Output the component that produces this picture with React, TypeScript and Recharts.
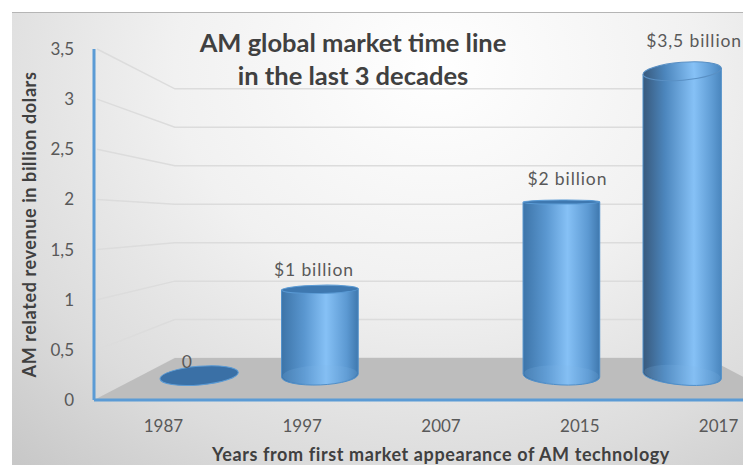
import React from 'react'
import {
  BarChart,
  Bar,
  XAxis,
  YAxis,
  CartesianGrid,
  LabelList,
  Label,
  ReferenceArea,
} from 'recharts'

const years = ['1987', '1997', '2007', '2015', '2017']
const revenue = [0, 1, null, 2, 3.5]
const valueLabels = ['0', '$1 billion', null, '$2 billion', '$3,5 billion']
const revenueTicks = [0, 0.5, 1, 1.5, 2, 2.5, 3, 3.5]
const titleLines = ['AM global market time line', 'in the last 3 decades']

const data = years.map((year, i) => ({ year, revenue: revenue[i], label: valueLabels[i] }))

const FONT = 'Lato, "Open Sans", sans-serif'
const AXIS_BLUE = '#5b9bd5'
const TICK = { fontFamily: FONT, fontSize: 17, fill: '#595959' }
const AXIS_TITLE = { fontFamily: FONT, fontSize: 18, fontWeight: 700, fill: '#404040', letterSpacing: 0.6 }

// Fake 3D: everything is pulled toward one vanishing point by a depth factor
const VANISH = { x: 441, y: 220 }
const WALL_DEPTH = 0.767
const BAR_DEPTH = 0.87
const LABEL_DEPTH = 0.913

const px = (x: number, depth: number) => VANISH.x + (x - VANISH.x) * depth
const py = (y: number, depth: number) => VANISH.y + (y - VANISH.y) * depth

// ── Back wall gridlines, bent along the left side wall ───────────────────────

function wallLine(p: any) {
  const points = [
    `${p.x1 + 3},${p.y1}`,
    `${px(p.x1, WALL_DEPTH)},${py(p.y1, WALL_DEPTH)}`,
    `${px(p.x2, WALL_DEPTH)},${py(p.y2, WALL_DEPTH)}`,
  ].join(' ')
  return <polyline key={p.key ?? p.index ?? p.y1} points={points} fill="none" stroke="#dcdcdc" strokeWidth={1.5} />
}

// ── Floor of the 3D box ──────────────────────────────────────────────────────

function Floor(p: any) {
  const left = p.x
  const right = p.x + p.width
  const front = p.y + p.height
  const backY = py(front, WALL_DEPTH)
  const points = [
    [left, front],
    [px(left, WALL_DEPTH), backY],
    [px(right, WALL_DEPTH), backY],
    [right, front],
  ]
  return <polygon points={points.map((q) => q.join(',')).join(' ')} fill="#bdbdbd" />
}

// ── Cylinders ────────────────────────────────────────────────────────────────

function rimRadius(y: number) {
  return Math.max(2, Math.abs(y - VANISH.y) * 0.06)
}

function rimTilt(x: number, y: number) {
  return (x - VANISH.x) * ((y - VANISH.y) / 156) * 0.02
}

function Cylinder(p: any) {
  const cx = px(p.x + p.width / 2, BAR_DEPTH)
  const baseY = py(p.y + p.height, BAR_DEPTH) - 1
  const topY = py(p.y, BAR_DEPTH)
  const rx = (p.width / 2) * BAR_DEPTH * (1 + (Math.abs(cx - VANISH.x) / 240) * 0.05)
  const baseRy = rimRadius(baseY)
  const baseTilt = rimTilt(cx, baseY)

  if (p.height < 1) {
    return (
      <ellipse
        cx={cx}
        cy={baseY}
        rx={rx}
        ry={baseRy}
        fill="#3a70a6"
        stroke="#5b9bd5"
        transform={`rotate(${baseTilt} ${cx} ${baseY})`}
      />
    )
  }

  const topRy = rimRadius(topY)
  const topTilt = rimTilt(cx, topY)
  const edge = (y: number, tilt: number, side: number) => {
    const t = (tilt * Math.PI) / 180
    return `${cx + side * rx * Math.cos(t)} ${y + side * rx * Math.sin(t)}`
  }
  const fill = Math.abs(cx - VANISH.x) > 200 ? 'url(#cylinderOuter)' : 'url(#cylinderInner)'
  const body = [
    `M ${edge(topY, topTilt, -1)}`,
    `L ${edge(baseY, baseTilt, -1)}`,
    `A ${rx} ${baseRy} ${baseTilt} 0 0 ${edge(baseY, baseTilt, 1)}`,
    `L ${edge(topY, topTilt, 1)}`,
    'Z',
  ].join(' ')
  const seenFromBelow = topY < VANISH.y - 40

  return (
    <g>
      <path d={body} fill={fill} stroke="#4f8fca" strokeWidth={1} />
      {/* far bottom rim showing through the glassy body */}
      <ellipse
        cx={cx}
        cy={baseY - 1}
        rx={rx - 1}
        ry={baseRy}
        fill="#7db6ea"
        fillOpacity={0.18}
        transform={`rotate(${baseTilt} ${cx} ${baseY})`}
      />
      <ellipse
        cx={cx}
        cy={topY}
        rx={rx}
        ry={topRy}
        fill={seenFromBelow ? fill : '#3e78b0'}
        stroke={seenFromBelow ? '#5a90c4' : '#5b9bd5'}
        strokeWidth={1}
        transform={`rotate(${topTilt} ${cx} ${topY})`}
      />
    </g>
  )
}

function ValueLabel(p: any) {
  if (p.value == null) return null
  const box = p.viewBox ?? p
  const x = px(box.x + box.width / 2, LABEL_DEPTH)
  const y = py(box.y, LABEL_DEPTH) - 23
  return (
    <text
      x={x}
      y={y}
      textAnchor="middle"
      dominantBaseline="central"
      fontFamily={FONT}
      fontSize={17.5}
      letterSpacing={0.9}
      fill="#595959"
    >
      {p.value}
    </text>
  )
}

export default function App() {
  return (
    <div style={{ position: 'absolute', left: 0, top: 0, width: 743, height: 465, overflow: 'hidden', background: '#fff' }}>
      <div
        style={{
          position: 'absolute',
          left: 12,
          top: 12,
          right: 0,
          bottom: 0,
          borderTop: '1px solid #b5b5b5',
          background: 'radial-gradient(ellipse 85% 118% at 58% 12%, #ffffff 0%, #f1f1f1 42%, #dcdcdc 76%, #c8c8c8 100%)',
        }}
      />
      <div style={{ position: 'absolute', left: 0, top: 0 }}>
        <BarChart
          width={800}
          height={465}
          data={data}
          barSize={86}
          margin={{ top: 49, right: 12, bottom: 0, left: 0 }}
        >
          <defs>
            <linearGradient id="cylinderInner" x1="0" y1="0" x2="1" y2="0">
              <stop offset="0%" stopColor="#3d74a8" />
              <stop offset="30%" stopColor="#5a97d0" />
              <stop offset="58%" stopColor="#86c1f6" />
              <stop offset="85%" stopColor="#5c99d2" />
              <stop offset="100%" stopColor="#3f78ae" />
            </linearGradient>
            <linearGradient id="cylinderOuter" x1="0" y1="0" x2="1" y2="0">
              <stop offset="0%" stopColor="#38597c" />
              <stop offset="28%" stopColor="#4c86bd" />
              <stop offset="65%" stopColor="#86c1f6" />
              <stop offset="88%" stopColor="#5f9cd4" />
              <stop offset="100%" stopColor="#4a86be" />
            </linearGradient>
          </defs>
          <CartesianGrid vertical={false} horizontal={wallLine} />
          <ReferenceArea y1={0} y2={3.5} shape={Floor} ifOverflow="visible" />
          <XAxis
            dataKey="year"
            height={65}
            interval={0}
            tick={TICK}
            tickLine={false}
            tickSize={0}
            tickMargin={20}
            axisLine={{ stroke: AXIS_BLUE, strokeWidth: 3 }}
          >
            <Label
              value="Years from first market appearance of AM technology"
              position="bottom"
              offset={-17}
              style={AXIS_TITLE}
            />
          </XAxis>
          <YAxis
            width={94}
            domain={[0, 3.5]}
            ticks={revenueTicks}
            tickFormatter={(v: number) => String(v).replace('.', ',')}
            tick={TICK}
            tickLine={false}
            tickSize={0}
            tickMargin={20}
            axisLine={{ stroke: AXIS_BLUE, strokeWidth: 3 }}
          >
            <Label
              value="AM related revenue in billion dolars"
              angle={-90}
              position="insideLeft"
              offset={30}
              style={{ ...AXIS_TITLE, textAnchor: 'middle' }}
            />
          </YAxis>
          <Bar dataKey="revenue" shape={Cylinder} isAnimationActive={false}>
            <LabelList dataKey="label" content={ValueLabel} />
          </Bar>
          {titleLines.map((line, i) => (
            <text
              key={line}
              x={353}
              y={52 + i * 33}
              textAnchor="middle"
              fontFamily={FONT}
              fontSize={25.5}
              fontWeight={700}
              fill="#404040"
            >
              {line}
            </text>
          ))}
        </BarChart>
      </div>
    </div>
  )
}
